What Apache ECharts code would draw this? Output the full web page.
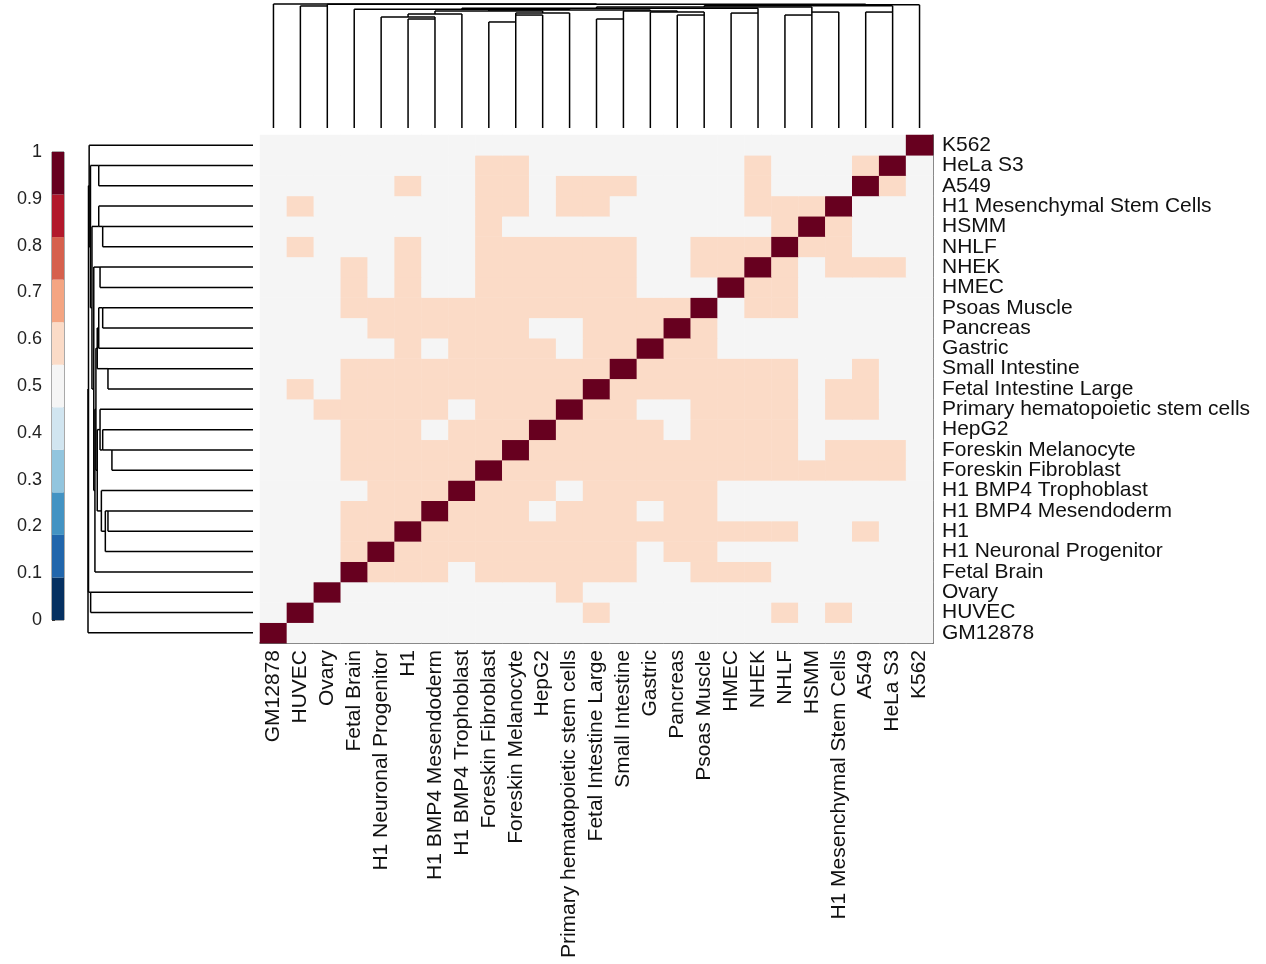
<!DOCTYPE html>
<html>
<head>
<meta charset="utf-8">
<script src="https://cdn.jsdelivr.net/npm/echarts@6/dist/echarts.min.js"></script>
<style>
  html, body { margin: 0; padding: 0; background: #fff; }
  #chart { width: 1266px; height: 964px; }
</style>
</head>
<body>
<div id="chart"></div>
<script>
// Samples, in clustered leaf order (left to right / bottom to top)
const samples = [
  'GM12878', 'HUVEC', 'Ovary', 'Fetal Brain', 'H1 Neuronal Progenitor', 'H1',
  'H1 BMP4 Mesendoderm', 'H1 BMP4 Trophoblast', 'Foreskin Fibroblast',
  'Foreskin Melanocyte', 'HepG2', 'Primary hematopoietic stem cells',
  'Fetal Intestine Large', 'Small Intestine', 'Gastric', 'Pancreas',
  'Psoas Muscle', 'HMEC', 'NHEK', 'NHLF', 'HSMM', 'H1 Mesenchymal Stem Cells',
  'A549', 'HeLa S3', 'K562'
];

// Pairwise similarity, rows and columns in the sample order above
const similarity = [
  [1,.5,.5,.5,.5,.5,.5,.5,.5,.5,.5,.5,.5,.5,.5,.5,.5,.5,.5,.5,.5,.5,.5,.5,.5],
  [.5,1,.5,.5,.5,.5,.5,.5,.5,.5,.5,.5,.6,.5,.5,.5,.5,.5,.5,.6,.5,.6,.5,.5,.5],
  [.5,.5,1,.5,.5,.5,.5,.5,.5,.5,.5,.6,.5,.5,.5,.5,.5,.5,.5,.5,.5,.5,.5,.5,.5],
  [.5,.5,.5,1,.6,.6,.6,.5,.6,.6,.6,.6,.6,.6,.5,.5,.6,.6,.6,.5,.5,.5,.5,.5,.5],
  [.5,.5,.5,.6,1,.6,.6,.6,.6,.6,.6,.6,.6,.6,.5,.6,.6,.5,.5,.5,.5,.5,.5,.5,.5],
  [.5,.5,.5,.6,.6,1,.6,.6,.6,.6,.6,.6,.6,.6,.6,.6,.6,.6,.6,.6,.5,.5,.6,.5,.5],
  [.5,.5,.5,.6,.6,.6,1,.6,.6,.6,.5,.6,.6,.6,.5,.6,.6,.5,.5,.5,.5,.5,.5,.5,.5],
  [.5,.5,.5,.5,.6,.6,.6,1,.6,.6,.6,.5,.6,.6,.6,.6,.6,.5,.5,.5,.5,.5,.5,.5,.5],
  [.5,.5,.5,.6,.6,.6,.6,.6,1,.6,.6,.6,.6,.6,.6,.6,.6,.6,.6,.6,.6,.6,.6,.6,.5],
  [.5,.5,.5,.6,.6,.6,.6,.6,.6,1,.6,.6,.6,.6,.6,.6,.6,.6,.6,.6,.5,.6,.6,.6,.5],
  [.5,.5,.5,.6,.6,.6,.5,.6,.6,.6,1,.6,.6,.6,.6,.5,.6,.6,.6,.6,.5,.5,.5,.5,.5],
  [.5,.5,.6,.6,.6,.6,.6,.5,.6,.6,.6,1,.6,.6,.5,.5,.6,.6,.6,.6,.5,.6,.6,.5,.5],
  [.5,.6,.5,.6,.6,.6,.6,.6,.6,.6,.6,.6,1,.6,.6,.6,.6,.6,.6,.6,.5,.6,.6,.5,.5],
  [.5,.5,.5,.6,.6,.6,.6,.6,.6,.6,.6,.6,.6,1,.6,.6,.6,.6,.6,.6,.5,.5,.6,.5,.5],
  [.5,.5,.5,.5,.5,.6,.5,.6,.6,.6,.6,.5,.6,.6,1,.6,.6,.5,.5,.5,.5,.5,.5,.5,.5],
  [.5,.5,.5,.5,.6,.6,.6,.6,.6,.6,.5,.5,.6,.6,.6,1,.6,.5,.5,.5,.5,.5,.5,.5,.5],
  [.5,.5,.5,.6,.6,.6,.6,.6,.6,.6,.6,.6,.6,.6,.6,.6,1,.5,.6,.6,.5,.5,.5,.5,.5],
  [.5,.5,.5,.6,.5,.6,.5,.5,.6,.6,.6,.6,.6,.6,.5,.5,.5,1,.6,.6,.5,.5,.5,.5,.5],
  [.5,.5,.5,.6,.5,.6,.5,.5,.6,.6,.6,.6,.6,.6,.5,.5,.6,.6,1,.6,.5,.6,.6,.6,.5],
  [.5,.6,.5,.5,.5,.6,.5,.5,.6,.6,.6,.6,.6,.6,.5,.5,.6,.6,.6,1,.6,.6,.5,.5,.5],
  [.5,.5,.5,.5,.5,.5,.5,.5,.6,.5,.5,.5,.5,.5,.5,.5,.5,.5,.5,.6,1,.6,.5,.5,.5],
  [.5,.6,.5,.5,.5,.5,.5,.5,.6,.6,.5,.6,.6,.5,.5,.5,.5,.5,.6,.6,.6,1,.5,.5,.5],
  [.5,.5,.5,.5,.5,.6,.5,.5,.6,.6,.5,.6,.6,.6,.5,.5,.5,.5,.6,.5,.5,.5,1,.6,.5],
  [.5,.5,.5,.5,.5,.5,.5,.5,.6,.6,.5,.5,.5,.5,.5,.5,.5,.5,.6,.5,.5,.5,.6,1,.5],
  [.5,.5,.5,.5,.5,.5,.5,.5,.5,.5,.5,.5,.5,.5,.5,.5,.5,.5,.5,.5,.5,.5,.5,.5,1]
];

// Hierarchical clustering: [clusterA, clusterB, linkage height].
// Ids 0-24 are samples; row n creates cluster 25 + n.
const linkage = [
  [5, 6, 0.879],
  [4, 25, 0.895],
  [26, 7, 0.919],
  [8, 9, 0.855],
  [28, 10, 0.911],
  [29, 11, 0.927],
  [12, 13, 0.879],
  [15, 16, 0.911],
  [14, 32, 0.935],
  [17, 18, 0.927],
  [19, 20, 0.911],
  [35, 21, 0.935],
  [22, 23, 0.935],
  [1, 2, 0.984],
  [27, 30, 0.944],
  [31, 33, 0.944],
  [39, 40, 0.952],
  [3, 41, 0.958],
  [42, 34, 0.965],
  [43, 36, 0.976],
  [44, 37, 0.985],
  [45, 24, 0.993],
  [38, 46, 0.997],
  [0, 47, 1.0]
];

// Colour scale (RdBu, 11 classes) from 0 up to 1
const colorLevels = [
  '#053061', '#2166ac', '#4393c3', '#92c5de', '#d1e5f0', '#f5f5f5',
  '#fbdbc7', '#f4a582', '#d6604d', '#b2182b', '#67001f'
];
const scaleMin = 0, scaleMax = 1;

// ---- derived structures ----
const n = samples.length;
const heatData = [];
for (let r = 0; r < n; r++) {
  for (let c = 0; c < n; c++) heatData.push([c, r, similarity[r][c]]);
}

const step = (scaleMax - scaleMin) / colorLevels.length;
const pieces = colorLevels.map((color, k) => {
  const p = { gte: scaleMin + k * step, color };
  if (k === colorLevels.length - 1) p.lte = scaleMax; else p.lt = scaleMin + (k + 1) * step;
  return p;
});
const bandData = colorLevels.map((c, k) => [scaleMin + k * step, scaleMin + (k + 1) * step, k]);

// Dendrogram segments: [position1, height1, position2, height2]
function dendroSegments() {
  const pos = [], hgt = [];
  for (let i = 0; i < n; i++) { pos[i] = i; hgt[i] = 0; }
  const segs = [];
  linkage.forEach(([a, b, h], idx) => {
    const id = n + idx;
    segs.push([pos[a], hgt[a], pos[a], h]);
    segs.push([pos[b], hgt[b], pos[b], h]);
    segs.push([pos[a], h, pos[b], h]);
    pos[id] = (pos[a] + pos[b]) / 2;
    hgt[id] = h;
  });
  return segs;
}
const segs = dendroSegments();
const topSegs = segs.map(s => [s[0], s[1], s[2], s[3]]);
const leftSegs = segs.map(s => [s[1], s[0], s[3], s[2]]);

function lineItem(params, api) {
  const p1 = api.coord([api.value(0), api.value(1)]);
  const p2 = api.coord([api.value(2), api.value(3)]);
  return {
    type: 'line',
    shape: { x1: p1[0], y1: p1[1], x2: p2[0], y2: p2[1] },
    style: { stroke: '#000', lineWidth: 1.5 }
  };
}

const labelFont = 'Liberation Sans, Arial, sans-serif';

const chart = echarts.init(document.getElementById('chart'));
chart.setOption({
  animation: false,
  backgroundColor: '#fff',
  grid: [
    { left: 260, top: 135, width: 673, height: 508 },   // heatmap
    { left: 260, top: 4, width: 673, height: 124 },     // top dendrogram
    { left: 88, top: 135, width: 165, height: 508 },    // left dendrogram
    { left: 52, top: 152, width: 12, height: 468, show: true, borderColor: '#555', borderWidth: 1 } // colour bar
  ],
  xAxis: [
    {
      gridIndex: 0, type: 'category', data: samples, position: 'bottom',
      axisLine: { show: true, lineStyle: { color: '#333', width: 1.5 } },
      axisTick: { show: false },
      axisLabel: { interval: 0, rotate: 90, margin: 7, fontSize: 21, color: '#111', fontFamily: labelFont },
      splitLine: { show: false }
    },
    { gridIndex: 1, type: 'category', data: samples, show: false },
    { gridIndex: 2, type: 'value', min: 0, max: 1, inverse: true, show: false },
    { gridIndex: 3, type: 'value', min: 0, max: 1, show: false }
  ],
  yAxis: [
    {
      gridIndex: 0, type: 'category', data: samples, position: 'right',
      axisLine: { show: true, lineStyle: { color: '#333', width: 1.5 } },
      axisTick: { show: false },
      axisLabel: { interval: 0, margin: 9, fontSize: 21, color: '#111', fontFamily: labelFont },
      splitLine: { show: false }
    },
    { gridIndex: 1, type: 'value', min: 0, max: 1, show: false },
    { gridIndex: 2, type: 'category', data: samples, show: false },
    {
      gridIndex: 3, type: 'value', min: scaleMin, max: scaleMax, interval: 0.1, position: 'left',
      axisLine: { show: false },
      axisTick: { show: true, inside: true, length: 3, lineStyle: { color: '#333' } },
      axisLabel: { margin: 10, fontSize: 18, color: '#222', fontFamily: labelFont },
      splitLine: { show: false }
    }
  ],
  visualMap: {
    type: 'piecewise', show: false, seriesIndex: 0, dimension: 2, pieces: pieces
  },
  series: [
    {
      type: 'heatmap', xAxisIndex: 0, yAxisIndex: 0, data: heatData,
      emphasis: { disabled: true }, progressive: 0
    },
    {
      type: 'custom', xAxisIndex: 1, yAxisIndex: 1, data: topSegs,
      renderItem: lineItem, clip: false, silent: true
    },
    {
      type: 'custom', xAxisIndex: 2, yAxisIndex: 2, data: leftSegs,
      renderItem: lineItem, clip: false, silent: true
    },
    {
      type: 'custom', xAxisIndex: 3, yAxisIndex: 3, data: bandData, silent: true,
      encode: { x: -1, y: [0, 1] },
      renderItem: function (params, api) {
        const p1 = api.coord([0, api.value(0)]);
        const p2 = api.coord([1, api.value(1)]);
        return {
          type: 'rect',
          shape: { x: p1[0], y: p2[1], width: p2[0] - p1[0], height: p1[1] - p2[1] },
          style: { fill: colorLevels[api.value(2)] }
        };
      }
    }
  ]
});
</script>
</body>
</html>
